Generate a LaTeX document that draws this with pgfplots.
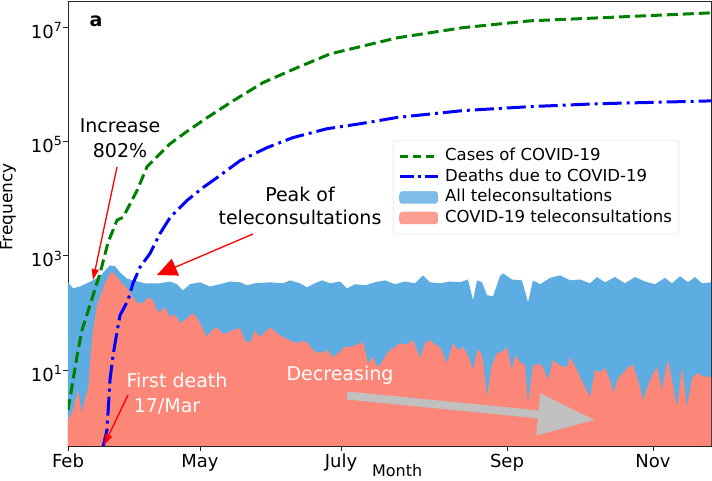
\documentclass[border=0pt]{standalone}
\usepackage{fontspec}
\setmainfont{DejaVu Sans}
\usepackage{pgfplots}
\pgfplotsset{compat=1.18}
\usetikzlibrary{arrows.meta}

\definecolor{allblue}{RGB}{93,173,226}
\definecolor{covpink}{RGB}{252,134,120}
\definecolor{casegreen}{RGB}{0,128,0}
\definecolor{arrowgray}{RGB}{192,192,192}

% 10 with a raised exponent, in the text font
\newcommand{\tenpow}[1]{10\raisebox{6.5pt}{\fontsize{12.6}{13}\selectfont #1}}

\begin{document}
\begin{tikzpicture}
\begin{axis}[
    at={(0,0)}, anchor=south west,
    scale only axis, width=643pt, height=445pt,
    ymode=log,
    xmin=0, xmax=643, ymin=0.47, ymax=2.87e7,
    xtick={0,132,273,439,585},
    xticklabels={Feb,May,July,Sep,Nov},
    ytick={10,1000,100000,10000000},
    yticklabels={\tenpow{1},\tenpow{3},\tenpow{5},\tenpow{7}},
    yminorticks=false,
    tick pos=left, tick align=outside,
    major tick length=5pt,
    axis line style={black!85, line width=0.9pt},
    every tick/.style={black!85, line width=0.9pt},
    tick label style={font=\fontsize{18}{21}\selectfont},
    yticklabel style={anchor=base east, yshift=-11pt, inner xsep=1pt},
    xticklabel style={inner ysep=3pt},
    xlabel={Month}, ylabel={Frequency},
    xlabel style={font=\fontsize{16}{19}\selectfont, at={(axis description cs:0.512,-0.056)}, anchor=center},
    ylabel style={font=\fontsize{17}{20}\selectfont, at={(axis description cs:-0.0933,0.537)}, anchor=center},
    legend style={at={(0.5054,0.6876)}, anchor=north west,
        draw=black!15, rounded corners=3pt, fill=white, fill opacity=0.8, text opacity=1,
        font=\fontsize{16.5}{19}\selectfont, inner xsep=5pt, inner ysep=6pt,
        nodes={inner sep=2pt, text height=12.5pt, text depth=4pt},
        /tikz/every odd column/.append style={column sep=4pt}},
    legend cell align=left,
]
\addlegendimage{legend image code/.code={\draw[casegreen, line width=3pt, dash pattern=on 8pt off 5pt] (0pt,0pt) -- (38pt,0pt);}}
\addlegendentry{Cases of COVID-19}
\addlegendimage{legend image code/.code={\draw[blue, line width=3pt, dash pattern=on 14pt off 4pt on 3pt off 4pt] (0pt,0pt) -- (38pt,0pt);}}
\addlegendentry{Deaths due to COVID-19}
\addlegendimage{legend image code/.code={\fill[allblue] (0pt,-6pt) rectangle (38pt,6pt);}}
\addlegendentry{All teleconsultations}
\addlegendimage{legend image code/.code={\fill[covpink] (0pt,-6pt) rectangle (38pt,6pt);}}
\addlegendentry{COVID-19 teleconsultations\hspace{14pt}}

% all teleconsultations
\addplot[draw=none, fill=allblue, forget plot] coordinates {
(0,0.3) (0,344) (5,270) (12,290) (25,372) (32,440) (42,680) (47,660) (52,513) (59,400)
(65,372) (77,330) (92,330) (102,355) (109,318) (115,249) (122,318) (132,344) (142,290)
(152,318) (162,355) (172,344) (179,304) (187,330) (202,344) (215,330) (222,372) (232,330)
(239,281) (247,330) (254,372) (262,330) (272,355) (279,270) (287,318) (297,304) (307,344)
(317,372) (327,318) (337,355) (347,330) (355,455) (362,344) (372,330) (382,355) (392,344)
(400,385) (405,167) (409,372) (414,344) (419,204) (425,196) (432,440) (435,493) (444,385)
(454,372) (460,154) (465,372) (472,318) (482,410) (492,455) (502,372) (512,385) (522,330)
(529,425) (537,344) (547,425) (557,330) (567,425) (577,355) (587,318) (597,410) (604,330)
(612,440) (620,344) (627,425) (634,330) (643,344) (643,0.3)
};

% COVID-19 teleconsultations
\addplot[draw=none, fill=covpink, forget plot] coordinates {
(0,0.3) (0,1.34) (5,2.0) (10,4.5) (14,1.78) (18,3.7) (20,4.5) (23,22) (25,50) (29,136)
(32,188) (37,330) (42,493) (45,513) (49,420) (54,330) (59,270) (65,188) (70,148) (75,148)
(80,188) (85,167) (89,112) (92,103) (97,126) (102,84) (107,95) (112,66) (119,81) (125,99)
(129,81) (132,66) (139,37.7) (144,50) (149,56) (154,44) (159,44) (164,50) (172,54) (177,33)
(182,29.6) (187,50) (192,37.7) (197,46) (202,56) (209,44) (215,37.7) (222,33) (229,29.6)
(234,32) (239,30.8) (245,22.3) (252,19.8) (259,22.3) (265,16.9) (272,21) (277,26) (282,25.2)
(289,28) (295,30.8) (300,13.2) (305,16.9) (309,11.3) (314,13.8) (319,19.8) (325,24)
(332,29.6) (339,28) (345,33.4) (352,16.2) (357,29.6) (362,33.4) (367,28) (372,25.2)
(379,13.2) (385,29.6) (390,22.3) (395,25.2) (400,18.3) (405,10) (409,21) (412,22.3)
(415,15) (419,3.4) (424,12.2) (429,19.8) (434,21) (439,25.2) (444,10) (447,18.3) (452,13.8)
(457,12.2) (460,2.65) (465,12.2) (470,12.7) (474,12.2) (480,6.7) (485,15) (492,11.9)
(499,11.3) (502,16.9) (509,10) (515,5.9) (522,3.4) (527,10) (532,9.2) (537,10.8) (542,6.7)
(545,4.0) (550,7.2) (555,8.9) (560,11.3) (565,12.2) (570,6.7) (575,3.0) (582,6.7) (586,9.2)
(589,11.3) (594,4.5) (598,10.8) (600,15) (604,6.7) (609,2.26) (614,11.3) (619,2.26)
(624,7.2) (629,8.9) (635,7.8) (643,7.6) (643,0.3)
};

% cases
\addplot[casegreen, line width=3pt, dash pattern=on 11pt off 5pt, forget plot] coordinates {
(0,2) (10,22) (14,50) (32,490) (40,1700) (49,4200) (55,4700) (69,13800) (79,36000)
(95,69000) (102,91000) (119,150000) (139,260000) (165,513000) (195,1.07e6) (229,1.95e6)
(262,3.4e6) (329,6.5e6) (395,9.8e6) (462,1.29e7) (529,1.45e7) (643,1.78e7)
};

% deaths
\addplot[blue, line width=3pt, dash pattern=on 19pt off 5pt on 3pt off 5pt, forget plot] coordinates {
(35,0.45) (39,0.9) (42,6.7) (45,18) (49,46) (52,91) (60,167) (65,330) (72,630) (82,1100)
(92,2450) (102,4650) (119,9300) (135,15600) (149,23300) (172,46000) (199,78000)
(225,117000) (259,167000) (292,204000) (329,263000) (395,347000) (462,407000)
(529,457000) (643,513000)
};
\end{axis}

% annotations
\node[font=\fontsize{19}{22}\bfseries, anchor=base west] at (18pt,419pt) {a};
\node[font=\fontsize{19}{22}\selectfont, anchor=base] at (52pt,313pt) {Increase};
\node[font=\fontsize{19}{22}\selectfont, anchor=base] at (52pt,288pt) {802\%};
\draw[red, line width=1.3pt, -{Triangle[length=11pt,width=7pt]}] (49pt,279pt) -- (25pt,166pt);

\node[font=\fontsize{19}{22}\selectfont, anchor=base] at (232pt,244pt) {Peak of};
\node[font=\fontsize{19}{22}\selectfont, anchor=base] at (232pt,221pt) {teleconsultations};
\draw[red, line width=1.3pt, -{Triangle[length=20pt,width=18pt]}] (185pt,212pt) -- (89pt,171pt);

\node[white, font=\fontsize{19}{22}\selectfont, anchor=base] at (109pt,58pt) {First death};
\node[white, font=\fontsize{19}{22}\selectfont, anchor=base] at (99pt,33pt) {17/Mar};
\draw[red, line width=1.3pt, -{Triangle[length=11pt,width=7pt]}] (60pt,51pt) -- (36pt,1pt);

\node[white, font=\fontsize{19}{22}\selectfont, anchor=base] at (272pt,65pt) {Decreasing};
\draw[arrowgray, line width=8pt, -{Triangle[length=57pt,width=40pt]}] (279pt,50.5pt) -- (527pt,26pt);

\pgfresetboundingbox
\path[use as bounding box] (-68pt,-35pt) rectangle (644pt,446pt);
\end{tikzpicture}
\end{document}
